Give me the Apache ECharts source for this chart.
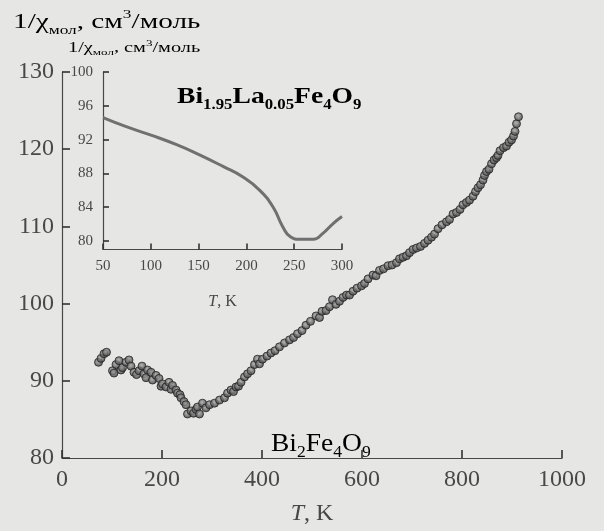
<!DOCTYPE html>
<html>
<head>
<meta charset="utf-8">
<style>
  html, body { margin: 0; padding: 0; background: #e6e6e4; }
  #chart { width: 604px; height: 531px; }
</style>
<script src="https://cdn.jsdelivr.net/npm/echarts@6/dist/echarts.min.js"></script>
</head>
<body>
<div id="chart"></div>
<script>
// Bi2Fe4O9, 1/chi vs T (main plot)
var mainT = [73, 78, 84, 89, 101, 104, 108, 114, 118, 121, 128, 134, 138, 144, 149, 154, 160, 164, 168, 171,
    178, 181, 188, 194, 198, 201, 208, 214, 218, 221, 228, 231, 236, 238, 244, 248, 251, 258, 263, 268,
    271, 275, 281, 288, 295, 305, 315, 325, 331, 338, 343, 348, 353, 358, 365, 371, 378, 385, 391, 395,
    401, 410, 418, 426, 435, 445, 455, 463, 471, 480, 488, 497, 508, 515, 520, 528, 535, 541, 548, 555,
    562, 569, 575, 582, 590, 599, 605, 612, 622, 628, 635, 643, 652, 660, 669, 675, 682, 689, 695, 702,
    709, 717, 725, 732, 739, 745, 752, 760, 769, 775, 782, 789, 796, 802, 809, 815, 822, 827, 832, 837,
    842, 845, 849, 854, 859, 864, 869, 872, 876, 883, 889, 894, 899, 903, 906, 909, 913];
var mainChi = [92.4, 92.9, 93.5, 93.7, 91.3, 91.0, 92.1, 92.6, 91.4, 91.7, 92.4, 92.7, 91.9, 91.1, 90.8, 91.3, 91.9, 90.9, 90.4, 91.4,
    91.1, 90.1, 90.7, 90.3, 89.3, 89.6, 89.2, 89.8, 88.9, 89.4, 88.8, 88.4, 88.2, 87.8, 87.3, 86.9, 85.7, 86.1, 85.8, 86.3,
    86.6, 85.7, 87.1, 86.5, 86.9, 87.1, 87.5, 87.8, 88.4, 88.8, 88.6, 89.2, 89.3, 89.8, 90.5, 90.9, 91.3, 92.1, 92.8, 92.2,
    92.8, 93.2, 93.6, 93.9, 94.4, 94.9, 95.3, 95.6, 96.1, 96.5, 97.2, 97.7, 98.4, 98.2, 99.0, 99.1, 99.6, 100.5, 99.9, 100.3,
    100.8, 101.1, 101.1, 101.6, 102.0, 102.3, 102.6, 103.2, 103.7, 103.6, 104.3, 104.5, 104.9, 105.0, 105.3, 105.8, 106.0, 106.2, 106.6, 107.0,
    107.2, 107.4, 107.8, 108.2, 108.6, 109.0, 109.7, 110.2, 110.6, 110.9, 111.6, 111.8, 112.2, 112.8, 113.1, 113.4, 113.9, 114.5, 115.0, 115.4,
    116.0, 116.6, 117.1, 117.4, 118.1, 118.6, 118.9, 119.2, 119.8, 120.2, 120.4, 120.9, 121.2, 121.7, 122.3, 123.3, 124.2];

// Bi1.95La0.05Fe4O9 (inset)
var insetT = [50, 75, 101, 127, 151, 176, 196, 214, 228, 238, 246, 256, 270, 280, 291, 300];
var insetChi = [94.6, 93.5, 92.5, 91.4, 90.2, 88.8, 87.6, 86.0, 84.0, 81.7, 80.5, 80.2, 80.2, 80.9, 82.1, 82.9];
var insetYTicks = [80, 84, 88, 92, 96, 100];

var ink = '#484848';
var serif = '"Liberation Serif", "DejaVu Serif", serif';

var chart = echarts.init(document.getElementById('chart'));

var mainData = mainT.map(function (t, i) {
    return [t, mainChi[i]];
});
var insetData = insetT.map(function (t, i) {
    return [t, insetChi[i]];
});

function axisBase(size, margin, tickLen) {
    return {
        axisLine: {show: true, lineStyle: {color: ink, width: 1.2}},
        axisTick: {show: true, inside: true, length: tickLen, lineStyle: {color: '#333333', width: 1.6}},
        axisLabel: {
            show: true, color: ink, fontFamily: serif, fontSize: size, margin: margin,
            formatter: function (v) {
                return String(v);
            }
        },
        splitLine: {show: false}
    };
}

function nameRich(fs) {
    return {
        rich: {
            i: {fontFamily: serif, fontSize: fs, fontStyle: 'italic', color: ink},
            n: {fontFamily: serif, fontSize: fs, color: ink}
        }
    };
}

var mx = axisBase(24, 10, 8);
var my = axisBase(24, 8, 8);
var ix = axisBase(15, 9, 6);
var iy = axisBase(15, 10, 6);
iy.axisTick.customValues = insetYTicks;
iy.axisLabel.customValues = insetYTicks;

var option = {
    backgroundColor: '#e6e6e4',
    animation: false,
    grid: [
        {left: 62, top: 72, width: 500, height: 398},
        {left: 103, top: 72, width: 239, height: 177.5}
    ],
    xAxis: [
        Object.assign(mx, {
            type: 'value', gridIndex: 0, min: 0, max: 1000, interval: 200,
            name: '{i|T}{n|, K}', nameLocation: 'middle', nameGap: 44,
            nameTextStyle: nameRich(24)
        }),
        Object.assign(ix, {
            type: 'value', gridIndex: 1, min: 50, max: 300, interval: 50,
            name: '{i|T}{n|, K}', nameLocation: 'middle', nameGap: 44,
            nameTextStyle: nameRich(16)
        })
    ],
    yAxis: [
        Object.assign(my, {type: 'value', gridIndex: 0, min: 80, max: 130, interval: 10}),
        Object.assign(iy, {type: 'value', gridIndex: 1, min: 79, max: 100})
    ],
    series: [
        {
            name: 'Bi2Fe4O9',
            type: 'scatter',
            xAxisIndex: 0,
            yAxisIndex: 0,
            data: mainData,
            symbol: 'circle',
            symbolSize: 8,
            itemStyle: {
                color: new echarts.graphic.RadialGradient(0.45, 0.4, 0.6, [
                    {offset: 0, color: '#a8a8a8'},
                    {offset: 1, color: '#333333'}
                ]),
                borderColor: '#262626',
                borderWidth: 1
            }
        },
        {
            name: 'Bi1.95La0.05Fe4O9',
            type: 'line',
            xAxisIndex: 1,
            yAxisIndex: 1,
            data: insetData,
            smooth: true,
            showSymbol: false,
            lineStyle: {color: '#707070', width: 3}
        }
    ]
};

var subStyle = function (fs, bold) {
    return {fontFamily: serif, fontSize: fs, color: ink, fontWeight: bold ? 'bold' : 'normal', verticalAlign: 'bottom'};
};
var supStyle = function (fs) {
    return {fontFamily: serif, fontSize: fs, color: ink, verticalAlign: 'top'};
};
var normStyle = function (fs, bold) {
    return {fontFamily: serif, fontSize: fs, color: ink, fontWeight: bold ? 'bold' : 'normal', lineHeight: Math.round(fs * 1.3)};
};

// text labels; the scanned font is wider than Liberation Serif, so stretch horizontally
option.graphic = [
    {
        type: 'text', x: 13, y: 8, scaleX: 1.33,
        style: {
            text: '{n|1/χ}{s|мол}{n|, см}{p|3}{n|/моль}',
            align: 'left', verticalAlign: 'top',
            rich: {n: normStyle(22), s: subStyle(13), p: supStyle(13)}
        }
    },
    {
        type: 'text', x: 68, y: 39, scaleX: 1.45,
        style: {
            text: '{n|1/χ}{s|мол}{n|, см}{p|3}{n|/моль}',
            align: 'left', verticalAlign: 'top',
            rich: {n: normStyle(14), s: subStyle(9), p: supStyle(9)}
        }
    },
    {
        type: 'text', x: 177, y: 82, scaleX: 1.2,
        style: {
            text: '{n|Bi}{s|1.95}{n|La}{s|0.05}{n|Fe}{s|4}{n|O}{s|9}',
            align: 'left', verticalAlign: 'top',
            rich: {n: normStyle(23, true), s: subStyle(14, true)}
        }
    },
    {
        type: 'text', x: 271, y: 428, scaleX: 1.1,
        style: {
            text: '{n|Bi}{s|2}{n|Fe}{s|4}{n|O}{s|9}',
            align: 'left', verticalAlign: 'top',
            rich: {n: normStyle(25), s: subStyle(16)}
        }
    }
];

chart.setOption(option);
</script>
</body>
</html>
